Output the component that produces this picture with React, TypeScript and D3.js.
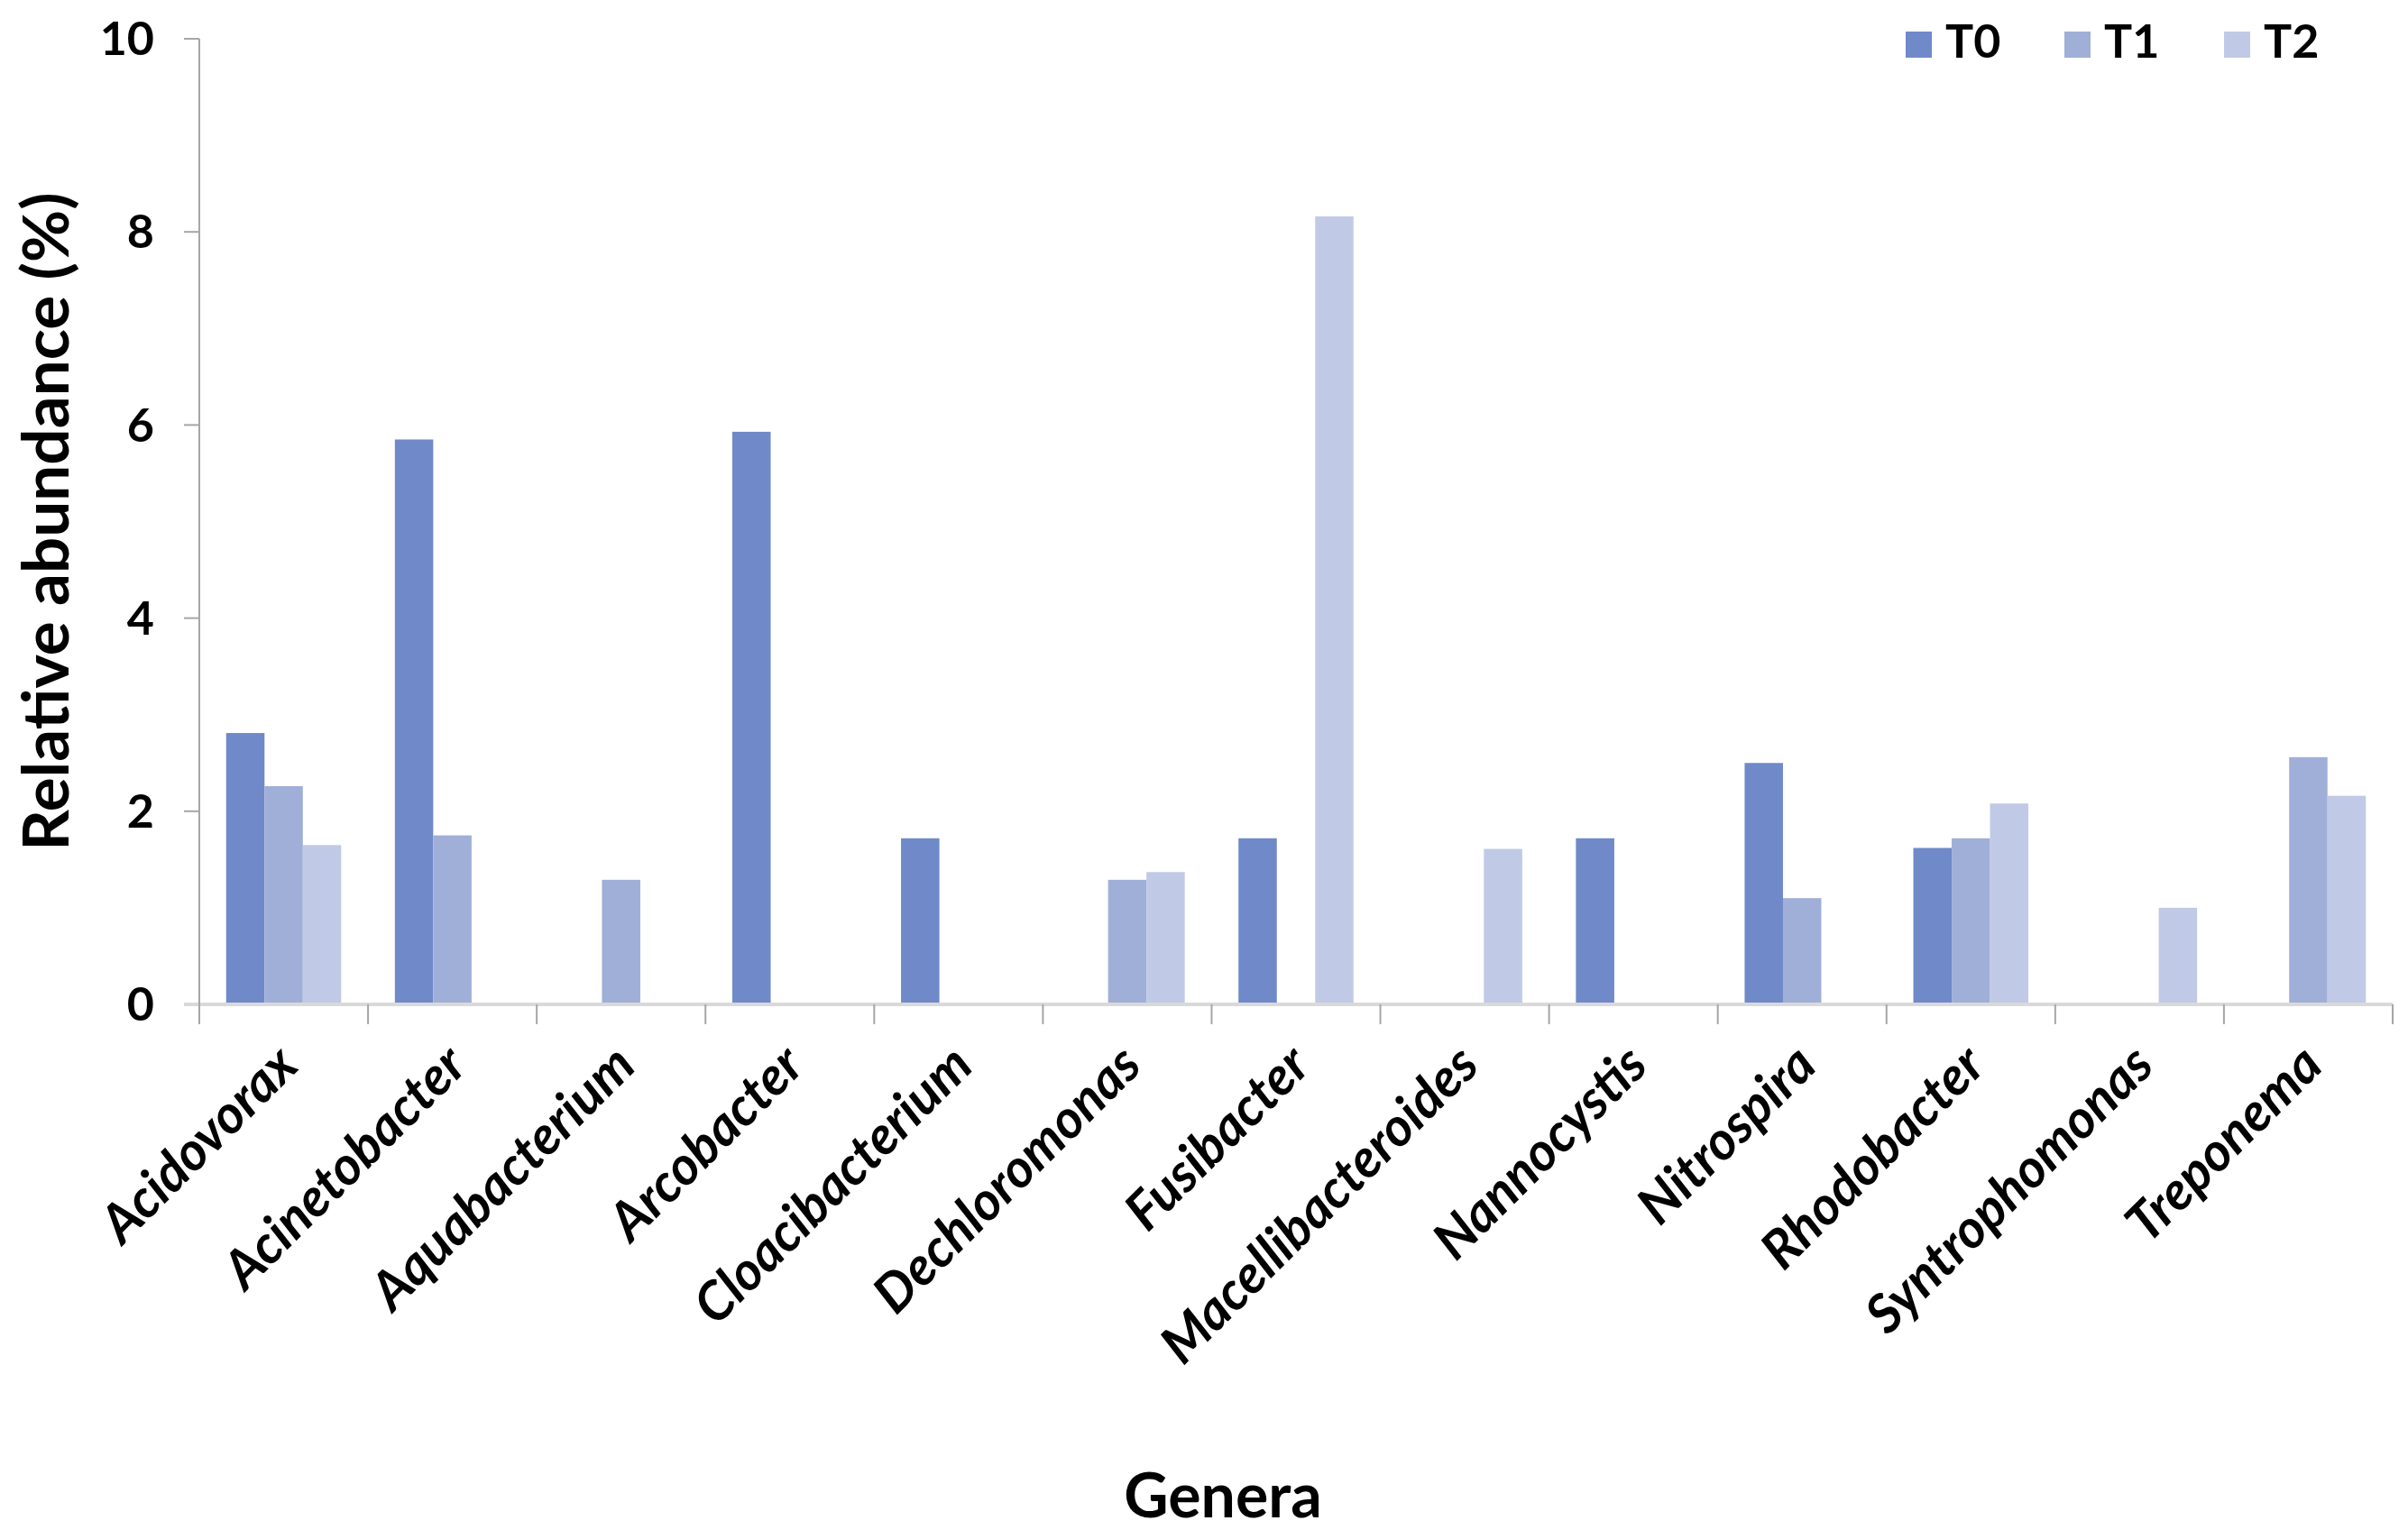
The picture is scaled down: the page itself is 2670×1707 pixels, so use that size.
import React, { useEffect, useRef } from 'react';
import * as d3 from 'd3';

const genera = [
  'Acidovorax', 'Acinetobacter', 'Aquabacterium', 'Arcobacter', 'Cloacibacterium',
  'Dechloromonas', 'Fusibacter', 'Macellibacteroides', 'Nannocystis', 'Nitrospira',
  'Rhodobacter', 'Syntrophomonas', 'Treponema'
];
const seriesNames = ['T0', 'T1', 'T2'];
const t0 = [2.81, 5.85, 0, 5.93, 1.72, 0, 1.72, 0, 1.72, 2.5, 1.62, 0, 0];
const t1 = [2.26, 1.75, 1.29, 0, 0, 1.29, 0, 0, 0, 1.1, 1.72, 0, 2.56];
const t2 = [1.65, 0, 0, 0, 0, 1.37, 8.16, 1.61, 0, 0, 2.08, 1.0, 2.16];
const yTicks = [0, 2, 4, 6, 8, 10];
const colors = ['#6f89c9', '#a0afd8', '#c0cae6'];

const W = 2670;
const H = 1707;
const FONT = 'Lato, "Open Sans", sans-serif';

const App: React.FC = () => {
  const svgRef = useRef<SVGSVGElement>(null);

  useEffect(() => {
    document.body.style.margin = '0';
    if (!svgRef.current) return;
    const svg = d3.select(svgRef.current);
    svg.selectAll('*').remove();

    const left = 221;
    const right = 2653;
    const top = 43;
    const bottom = 1114;

    const values = [t0, t1, t2];

    const x = d3.scaleBand<string>().domain(genera).range([left, right]).padding(0);
    const xSub = d3
      .scaleBand<string>()
      .domain(seriesNames)
      .range([0, x.bandwidth()])
      .paddingInner(0)
      .paddingOuter(0.7);
    const y = d3.scaleLinear().domain([0, 10]).range([bottom, top]);

    // bars
    genera.forEach((g, i) => {
      seriesNames.forEach((s, j) => {
        const v = values[j][i];
        if (!v) return;
        svg
          .append('rect')
          .attr('x', (x(g) as number) + (xSub(s) as number))
          .attr('y', y(v))
          .attr('width', xSub.bandwidth())
          .attr('height', y(0) - y(v))
          .attr('fill', colors[j]);
      });
    });

    // x axis line + category ticks
    svg
      .append('line')
      .attr('x1', left - 17)
      .attr('x2', right)
      .attr('y1', bottom)
      .attr('y2', bottom)
      .attr('stroke', '#d9d9d9')
      .attr('stroke-width', 4);

    const bounds = genera.map(g => x(g) as number).concat([right]);
    svg
      .selectAll('.xtick')
      .data(bounds)
      .enter()
      .append('line')
      .attr('x1', d => d)
      .attr('x2', d => d)
      .attr('y1', bottom)
      .attr('y2', bottom + 22)
      .attr('stroke', '#a6a6a6')
      .attr('stroke-width', 2);

    // y axis
    svg
      .append('line')
      .attr('x1', left)
      .attr('x2', left)
      .attr('y1', top)
      .attr('y2', bottom + 22)
      .attr('stroke', '#a6a6a6')
      .attr('stroke-width', 2);

    svg
      .selectAll('.ytick')
      .data(yTicks.filter(d => d > 0))
      .enter()
      .append('line')
      .attr('x1', left - 17)
      .attr('x2', left)
      .attr('y1', d => y(d))
      .attr('y2', d => y(d))
      .attr('stroke', '#a6a6a6')
      .attr('stroke-width', 2);

    svg
      .selectAll('.ylabel')
      .data(yTicks)
      .enter()
      .append('text')
      .attr('x', left - 50)
      .attr('y', d => y(d))
      .attr('dy', '0.35em')
      .attr('text-anchor', 'end')
      .style('font-family', FONT)
      .style('font-weight', 'bold')
      .style('font-size', '52px')
      .style('fill', '#000')
      .text(d => d);

    // category labels
    svg
      .selectAll('.xlabel')
      .data(genera)
      .enter()
      .append('text')
      .attr('transform', d => {
        const cx = (x(d) as number) + x.bandwidth() / 2 + 4;
        return `translate(${cx},${bottom + 56}) rotate(-45)`;
      })
      .attr('dy', '0.35em')
      .attr('text-anchor', 'end')
      .style('font-family', FONT)
      .style('font-weight', 'bold')
      .style('font-style', 'italic')
      .style('font-size', '59px')
      .style('fill', '#000')
      .text(d => d);

    // axis titles
    svg
      .append('text')
      .attr('transform', `translate(76,${(top + bottom) / 2}) rotate(-90)`)
      .attr('text-anchor', 'middle')
      .style('font-family', FONT)
      .style('font-weight', 'bold')
      .style('font-size', '71px')
      .style('fill', '#000')
      .text('Relative abundance (%)');

    svg
      .append('text')
      .attr('x', 1356)
      .attr('y', 1683)
      .attr('text-anchor', 'middle')
      .style('font-family', FONT)
      .style('font-weight', 'bold')
      .style('font-size', '68px')
      .style('fill', '#000')
      .text('Genera');

    // legend
    const legendX = [2113, 2289, 2466];
    const legend = svg
      .selectAll('.legend-item')
      .data(seriesNames)
      .enter()
      .append('g')
      .attr('transform', (d, i) => `translate(${legendX[i]}, 35)`);

    legend
      .append('rect')
      .attr('width', 29)
      .attr('height', 29)
      .attr('fill', (d, i) => colors[i]);

    legend
      .append('text')
      .attr('x', 44)
      .attr('y', 29)
      .style('font-family', FONT)
      .style('font-weight', 'bold')
      .style('font-size', '52px')
      .style('fill', '#000')
      .text(d => d);
  }, []);

  return <svg ref={svgRef} width={W} height={H} style={{ display: 'block', background: '#fff' }} />;
};

export default App;
